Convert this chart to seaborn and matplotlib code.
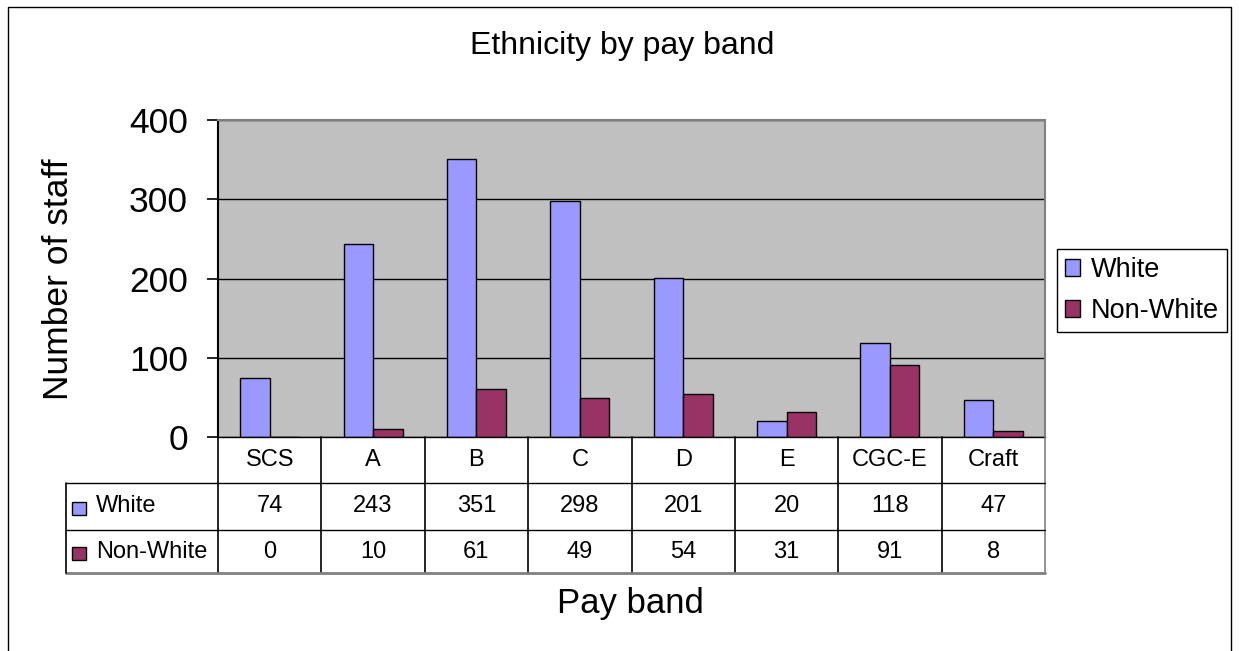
import matplotlib
matplotlib.use("Agg")
import matplotlib.pyplot as plt
from matplotlib.patches import Rectangle
from matplotlib.lines import Line2D
import pandas as pd
import seaborn as sns

bands = ['SCS', 'A', 'B', 'C', 'D', 'E', 'CGC-E', 'Craft']
white = [74, 243, 351, 298, 201, 20, 118, 47]
non_white = [0, 10, 61, 49, 54, 31, 91, 8]
series = ['White', 'Non-White']
colours = ['#9999FF', '#993366']
y_ticks = [0, 100, 200, 300, 400]

df = pd.DataFrame({
    'band': bands * 2,
    'count': white + non_white,
    'group': ['White'] * len(bands) + ['Non-White'] * len(bands),
})

sns.set_style('white')
plt.rcParams['font.family'] = ['Liberation Sans', 'DejaVu Sans']
plt.rcParams['text.color'] = 'black'
plt.rcParams['axes.labelcolor'] = 'black'

W, H = 1239, 651
fig = plt.figure(figsize=(W / 100, H / 100), dpi=100)


def fx(px):
    return px / W


def fy(py):
    return 1 - py / H


# plot area in pixels
L, R, T, B = 218, 1045, 120, 437
ax = fig.add_axes([fx(L), fy(B), fx(R) - fx(L), (B - T) / H])
ax.set_facecolor('#C0C0C0')

sns.barplot(data=df, x='band', y='count', hue='group', hue_order=series,
            palette=colours, width=0.571, edgecolor='black', linewidth=1,
            saturation=1, ax=ax)

ax.set_xlim(-0.5, len(bands) - 0.5)
ax.set_ylim(0, 400)
ax.set_yticks(y_ticks)
ax.set_axisbelow(True)
ax.yaxis.grid(True, color='black', linewidth=1)
ax.tick_params(axis='y', length=8, width=1.2, direction='out', pad=13.5,
               labelsize=25.5, left=True, colors='black')
ax.tick_params(axis='x', length=0, labelbottom=False)
ax.set_xlabel('')
ax.set_ylabel('')
for side in ['top', 'right']:
    ax.spines[side].set_color('#808080')
    ax.spines[side].set_linewidth(1.5)
ax.spines['left'].set_color('black')
ax.spines['left'].set_linewidth(1.5)
ax.spines['bottom'].set_color('black')
ax.spines['bottom'].set_linewidth(1)

handles, labels = ax.get_legend_handles_labels()
ax.legend(handles, labels, loc='upper left', bbox_to_anchor=(fx(1057), fy(249)),
          bbox_transform=fig.transFigure, borderaxespad=0, fontsize=19.5,
          frameon=True, fancybox=False, edgecolor='black', framealpha=1,
          handlelength=0.55, handleheight=0.55, handletextpad=0.4,
          labelspacing=0.55, borderpad=0.3, labelcolor='black')
ax.get_legend().get_frame().set_linewidth(1)

# data table under the plot
ppu = (R - L) / len(bands)
x_left = -0.5 - (L - 66) / ppu
tb = 573
tax = fig.add_axes([fx(66), fy(tb), fx(R) - fx(66), (tb - B) / H])
tax.set_xlim(x_left, len(bands) - 0.5)
tax.set_ylim(tb, B)
tax.axis('off')

rows = [483, 530]
for i in range(len(bands) + 1):
    c = '#808080' if i == len(bands) else 'black'
    tax.plot([i - 0.5, i - 0.5], [B, tb], color=c, lw=1.2, clip_on=False)
for r in rows:
    tax.plot([x_left, len(bands) - 0.5], [r, r], color='black', lw=1, clip_on=False)
tax.plot([x_left, len(bands) - 0.5], [tb, tb], color='#808080', lw=2, clip_on=False)
tax.plot([x_left, x_left], [rows[0], tb], color='black', lw=1.2, clip_on=False)

fs_tab = 17
for i, b in enumerate(bands):
    tax.text(i, (B + rows[0]) / 2, b, ha='center', va='center', fontsize=fs_tab)
    tax.text(i, (rows[0] + rows[1]) / 2, str(white[i]), ha='center', va='center', fontsize=fs_tab)
    tax.text(i, (rows[1] + tb) / 2, str(non_white[i]), ha='center', va='center', fontsize=fs_tab)


def px2x(px):
    return -0.5 + (px - L) / ppu


row_mid = [(rows[0] + rows[1]) / 2, (rows[1] + tb) / 2]
for name, col, ym in zip(series, colours, row_mid):
    tax.add_patch(Rectangle((px2x(72), ym - 4.5), px2x(86) - px2x(72), 13,
                            facecolor=col, edgecolor='black', lw=1, clip_on=False))
    tax.text(px2x(96), ym, name, ha='left', va='center', fontsize=fs_tab)

# titles
fig.text(fx(622), fy(46), 'Ethnicity by pay band', ha='center', va='center', fontsize=23)
fig.text(fx(59), fy(279), 'Number of staff', ha='center', va='center',
         rotation=90, fontsize=25.5)
fig.text(fx(630), fy(603), 'Pay band', ha='center', va='center', fontsize=25)

# outer chart border
fig.add_artist(Line2D([fx(7.5), fx(7.5), fx(1231), fx(1231)],
                      [0, fy(6.5), fy(6.5), 0], color='black', lw=1,
                      transform=fig.transFigure))

fig.savefig('out.png', dpi=100)
